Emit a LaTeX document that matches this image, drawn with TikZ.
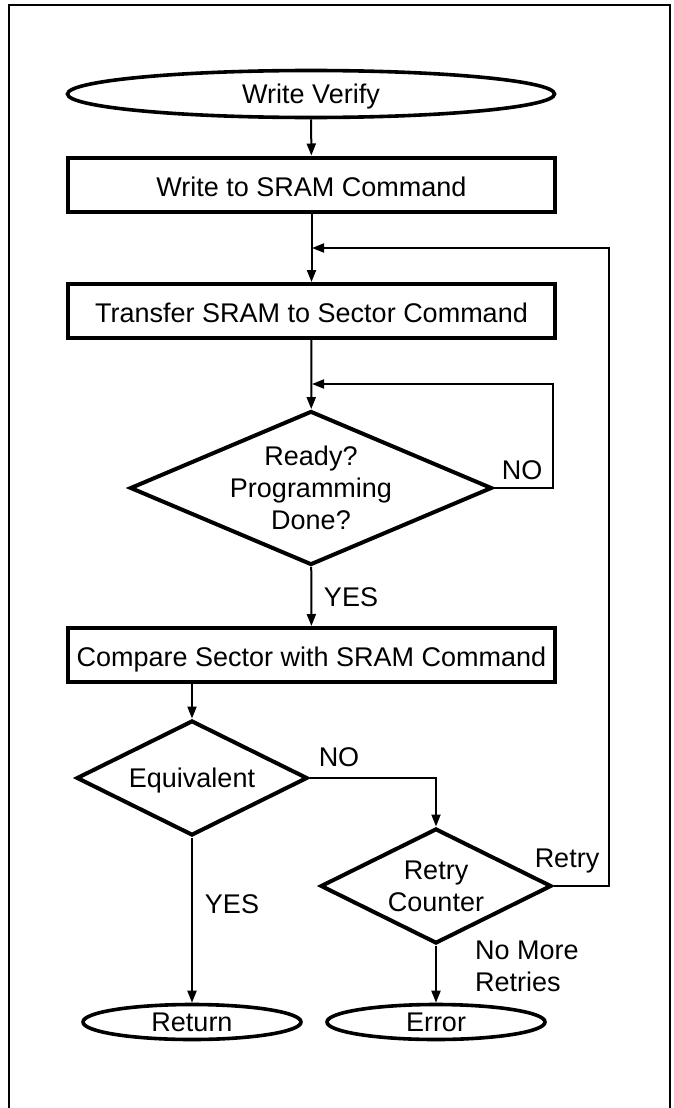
\documentclass[tikz,border=0pt]{standalone}
\usepackage{fontspec}
\setmainfont{Liberation Sans}
\usetikzlibrary{shapes.geometric,arrows.meta}
\begin{document}
\begin{tikzpicture}[x=1pt,y=-1pt,
  font=\fontsize{27}{32}\selectfont,
  proc/.style={draw, line width=4pt, rectangle, minimum width=487pt, minimum height=54pt, inner sep=0pt, text height=23pt, text depth=0pt},
  term/.style={draw, line width=3.6pt, ellipse, inner sep=0pt, text height=19.5pt, text depth=0pt},
  dec/.style={draw, line width=4pt, diamond, inner sep=0pt},
  conn/.style={line width=2pt, -{Triangle[length=12pt,width=9pt]}},
  lbl/.style={inner sep=0pt, text height=19.5pt, text depth=0pt}]
\useasboundingbox (0,0) rectangle (673,1108);
\draw[line width=2pt] (9,1112) -- (9,5) -- (670,5) -- (670,1112);

\node[term, minimum width=487pt, minimum height=47pt] (wv) at (311,94) {Write Verify};
\node[proc] (b1) at (311.5,184.5) {Write to SRAM Command};
\node[proc] (b2) at (311.5,311) {Transfer SRAM to Sector Command};
\node[dec, minimum width=362pt, minimum height=154pt,
      label={[align=center, inner sep=0pt]center:Ready?\\Programming\\Done?}] (rdy) at (311,488) {};
\node[proc] (b3) at (311.5,655) {Compare Sector with SRAM Command};
\node[dec, minimum width=231pt, minimum height=115pt,
      label={[inner sep=0pt, text height=19.5pt, text depth=0pt]center:Equivalent}] (eq) at (192,778) {};
\node[dec, minimum width=231pt, minimum height=115pt,
      label={[align=center, inner sep=0pt]center:Retry\\Counter}] (rc) at (436,886) {};
\node[term, minimum width=218pt, minimum height=35pt] (ret) at (192,1022) {Return};
\node[term, minimum width=218pt, minimum height=35pt] (err) at (436,1022) {Error};

\coordinate (j1) at (312,248);
\coordinate (j2) at (312,384);
\coordinate (r1) at (609,886);
\coordinate (r2) at (609,248);
\coordinate (n1) at (553,488);
\coordinate (n2) at (553,384);
\coordinate (e1) at (436,778);

\draw[conn] (wv) -- (b1);
\draw[conn] (b1) -- (b2);
\draw[conn] (b2) -- (rdy);
\draw[conn] (rdy) -- (b3);
\draw[conn] (b3.south -| eq.north) -- (eq.north);
\draw[conn] (eq.south) -- (ret);
\draw[conn] (rc.south) -- (err);
\draw[conn] (rdy.east) -- (n1) -- (n2) -- (j2);
\draw[conn] (eq.east) -- (e1) -- (rc.north);
\draw[conn] (rc.east) -- (r1) -- (r2) -- (j1);

\node[lbl] (lno1) at (522,470) {NO};
\node[lbl] (lyes1) at (351,597) {YES};
\node[lbl] (lno2) at (339,757) {NO};
\node[lbl] (lretry) at (567,858) {Retry};
\node[lbl] (lyes2) at (232,904) {YES};
\node[inner sep=0pt, align=left, anchor=west] (lnomore) at (475,966) {No More\\Retries};
\end{tikzpicture}
\end{document}
